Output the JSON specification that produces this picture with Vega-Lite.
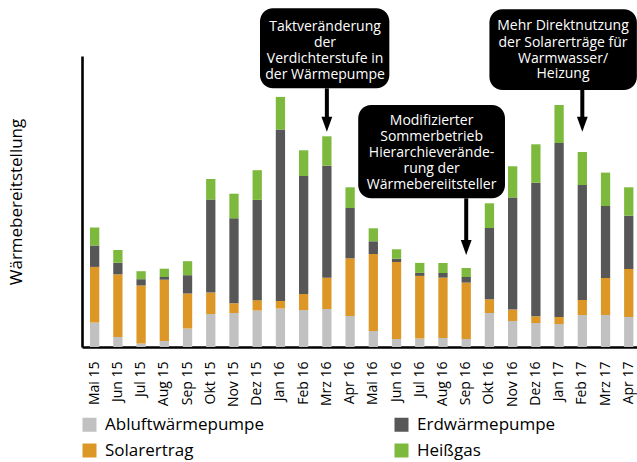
{
  "$schema": "https://vega.github.io/schema/vega-lite/v6.json",
  "width": 555,
  "height": 291,
  "autosize": "none",
  "padding": {"left": 82, "top": 56, "right": 0, "bottom": 115},
  "background": "white",
  "config": {
    "font": "Open Sans",
    "view": {"stroke": null}
  },
  "datasets": {
    "bars": [
      {"Monat": "Mai 15", "Abluftwärmepumpe": 24.5, "Solarertrag": 55.6, "Erdwärmepumpe": 21.4, "Heißgas": 18},
      {"Monat": "Jun 15", "Abluftwärmepumpe": 10, "Solarertrag": 62.7, "Erdwärmepumpe": 11.6, "Heißgas": 12.7},
      {"Monat": "Jul 15", "Abluftwärmepumpe": 3.5, "Solarertrag": 58, "Erdwärmepumpe": 6.3, "Heißgas": 8},
      {"Monat": "Aug 15", "Abluftwärmepumpe": 6, "Solarertrag": 61.3, "Erdwärmepumpe": 2.7, "Heißgas": 8.3},
      {"Monat": "Sep 15", "Abluftwärmepumpe": 18.5, "Solarertrag": 35, "Erdwärmepumpe": 18.3, "Heißgas": 14},
      {"Monat": "Okt 15", "Abluftwärmepumpe": 33, "Solarertrag": 21.4, "Erdwärmepumpe": 93, "Heißgas": 20.6},
      {"Monat": "Nov 15", "Abluftwärmepumpe": 34, "Solarertrag": 9.7, "Erdwärmepumpe": 85, "Heißgas": 24.6},
      {"Monat": "Dez 15", "Abluftwärmepumpe": 36.5, "Solarertrag": 10.3, "Erdwärmepumpe": 100.3, "Heißgas": 29.7},
      {"Monat": "Jan 16", "Abluftwärmepumpe": 38.5, "Solarertrag": 7.6, "Erdwärmepumpe": 171.4, "Heißgas": 32.6},
      {"Monat": "Feb 16", "Abluftwärmepumpe": 37, "Solarertrag": 16, "Erdwärmepumpe": 118, "Heißgas": 25.7},
      {"Monat": "Mrz 16", "Abluftwärmepumpe": 38, "Solarertrag": 31.3, "Erdwärmepumpe": 112, "Heißgas": 29.4},
      {"Monat": "Apr 16", "Abluftwärmepumpe": 31, "Solarertrag": 57.7, "Erdwärmepumpe": 50.3, "Heißgas": 20.7},
      {"Monat": "Mai 16", "Abluftwärmepumpe": 16, "Solarertrag": 77, "Erdwärmepumpe": 12.7, "Heißgas": 13},
      {"Monat": "Jun 16", "Abluftwärmepumpe": 8, "Solarertrag": 77, "Erdwärmepumpe": 3.3, "Heißgas": 9.4},
      {"Monat": "Jul 16", "Abluftwärmepumpe": 8.5, "Solarertrag": 62.6, "Erdwärmepumpe": 3, "Heißgas": 10},
      {"Monat": "Aug 16", "Abluftwärmepumpe": 9, "Solarertrag": 60.4, "Erdwärmepumpe": 4.6, "Heißgas": 10},
      {"Monat": "Sep 16", "Abluftwärmepumpe": 8, "Solarertrag": 56.4, "Erdwärmepumpe": 5.6, "Heißgas": 9},
      {"Monat": "Okt 16", "Abluftwärmepumpe": 34, "Solarertrag": 13.7, "Erdwärmepumpe": 71.3, "Heißgas": 24.7},
      {"Monat": "Nov 16", "Abluftwärmepumpe": 26, "Solarertrag": 11.4, "Erdwärmepumpe": 112, "Heißgas": 31.3},
      {"Monat": "Dez 16", "Abluftwärmepumpe": 24, "Solarertrag": 6.7, "Erdwärmepumpe": 133.6, "Heißgas": 38.4},
      {"Monat": "Jan 17", "Abluftwärmepumpe": 23, "Solarertrag": 7, "Erdwärmepumpe": 174, "Heißgas": 38},
      {"Monat": "Feb 17", "Abluftwärmepumpe": 32, "Solarertrag": 15, "Erdwärmepumpe": 115, "Heißgas": 33},
      {"Monat": "Mrz 17", "Abluftwärmepumpe": 32, "Solarertrag": 37, "Erdwärmepumpe": 72, "Heißgas": 33.4},
      {"Monat": "Apr 17", "Abluftwärmepumpe": 30, "Solarertrag": 48, "Erdwärmepumpe": 53.3, "Heißgas": 28.4}
    ],
    "boxes": [
      {"x": 7.12, "x2": 12.69, "y": 338.7, "y2": 258.7},
      {"x": 11.35, "x2": 17.67, "y": 242, "y2": 148.7},
      {"x": 17.0, "x2": 23.35, "y": 337.7, "y2": 257}
    ],
    "arrows": [
      {"x": 10, "y": 258.7, "y2": 226, "tip": 222.8},
      {"x": 16, "y": 148.7, "y2": 103, "tip": 99.5},
      {"x": 21, "y": 257, "y2": 226, "tip": 222.8}
    ],
    "notes": [
      {"x": 9.92, "y": 320.3, "text": "Taktveränderung"},
      {"x": 9.92, "y": 304.3, "text": "der"},
      {"x": 9.92, "y": 288.3, "text": "Verdichterstufe in"},
      {"x": 9.92, "y": 272.5, "text": "der Wärmepumpe"},
      {"x": 14.51, "y": 226.3, "text": "Modifizierter"},
      {"x": 14.51, "y": 209.8, "text": "Sommerbetrieb"},
      {"x": 14.51, "y": 193.7, "text": "Hierarchieverände-"},
      {"x": 14.51, "y": 177.7, "text": "rung der"},
      {"x": 14.51, "y": 162, "text": "Wärmebereiitsteller"},
      {"x": 20.17, "y": 321, "text": "Mehr Direktnutzung"},
      {"x": 20.17, "y": 304.3, "text": "der Solarerträge für"},
      {"x": 20.17, "y": 287.7, "text": "Warmwasser/"},
      {"x": 20.17, "y": 273, "text": "Heizung"}
    ]
  },
  "layer": [
    {
      "data": {"name": "bars"},
      "transform": [
        {"fold": ["Abluftwärmepumpe", "Solarertrag", "Erdwärmepumpe", "Heißgas"], "as": ["Quelle", "Wert"]},
        {"calculate": "indexof(['Abluftwärmepumpe','Solarertrag','Erdwärmepumpe','Heißgas'], datum.Quelle)", "as": "Reihenfolge"}
      ],
      "mark": {"type": "bar"},
      "encoding": {
        "x": {
          "field": "Monat",
          "type": "ordinal",
          "sort": null,
          "scale": {"paddingInner": 0.6, "paddingOuter": 0.25, "align": 0.69},
          "axis": {
            "title": null,
            "labelAngle": -90,
            "labelFontSize": 14,
            "labelColor": "#000000",
            "labelPadding": 14,
            "ticks": false,
            "domainColor": "#000000",
            "domainWidth": 2.6
          }
        },
        "y": {
          "field": "Wert",
          "type": "quantitative",
          "stack": "zero",
          "scale": {"domain": [0, 291], "nice": false, "zero": true},
          "axis": {
            "title": "Wärmebereitstellung",
            "titleFontSize": 17,
            "titleFontWeight": "normal",
            "titleColor": "#000000",
            "titlePadding": 57,
            "labels": false,
            "ticks": false,
            "grid": false,
            "domainColor": "#000000",
            "domainWidth": 2.6
          }
        },
        "color": {
          "field": "Quelle",
          "type": "nominal",
          "scale": {
            "domain": ["Abluftwärmepumpe", "Erdwärmepumpe", "Solarertrag", "Heißgas"],
            "range": ["#c1c1c1", "#575757", "#dd9727", "#7cb93c"]
          },
          "legend": {
            "title": null,
            "orient": "none",
            "direction": "horizontal",
            "legendX": -1,
            "legendY": 360,
            "columns": 2,
            "columnPadding": 128,
            "rowPadding": 8,
            "padding": 0,
            "symbolType": "square",
            "symbolSize": 196,
            "symbolStrokeWidth": 0,
            "labelFontSize": 17,
            "labelColor": "#000000",
            "labelOffset": 7,
            "labelLimit": 300
          }
        },
        "order": {"field": "Reihenfolge", "type": "quantitative"}
      }
    },
    {
      "layer": [
        {
          "data": {"name": "boxes"},
          "mark": {"type": "rect", "color": "#000000", "cornerRadius": 13},
          "encoding": {
            "x": {"field": "x", "type": "quantitative", "scale": {"domain": [-0.545, 23.355], "nice": false, "zero": false}, "axis": null},
            "x2": {"field": "x2"},
            "y": {"field": "y", "type": "quantitative", "scale": {"domain": [0, 291], "nice": false}},
            "y2": {"field": "y2"}
          }
        },
        {
          "data": {"name": "arrows"},
          "mark": {"type": "rule", "color": "#000000", "strokeWidth": 4},
          "encoding": {
            "x": {"field": "x", "type": "quantitative", "scale": {"domain": [-0.545, 23.355], "nice": false, "zero": false}, "axis": null},
            "y": {"field": "y", "type": "quantitative", "scale": {"domain": [0, 291], "nice": false}},
            "y2": {"field": "y2"}
          }
        },
        {
          "data": {"name": "arrows"},
          "mark": {"type": "point", "shape": "M-0.72,-1L0.72,-1L0,1Z", "filled": true, "color": "#000000", "opacity": 1, "size": 225, "strokeWidth": 0},
          "encoding": {
            "x": {"field": "x", "type": "quantitative", "scale": {"domain": [-0.545, 23.355], "nice": false, "zero": false}, "axis": null},
            "y": {"field": "tip", "type": "quantitative", "scale": {"domain": [0, 291], "nice": false}}
          }
        },
        {
          "data": {"name": "notes"},
          "mark": {"type": "text", "color": "#ffffff", "fontSize": 14, "font": "Open Sans", "align": "center", "baseline": "middle"},
          "encoding": {
            "x": {"field": "x", "type": "quantitative", "scale": {"domain": [-0.545, 23.355], "nice": false, "zero": false}, "axis": null},
            "y": {"field": "y", "type": "quantitative", "scale": {"domain": [0, 291], "nice": false}},
            "text": {"field": "text"}
          }
        }
      ]
    }
  ],
  "resolve": {"scale": {"x": "independent"}}
}
